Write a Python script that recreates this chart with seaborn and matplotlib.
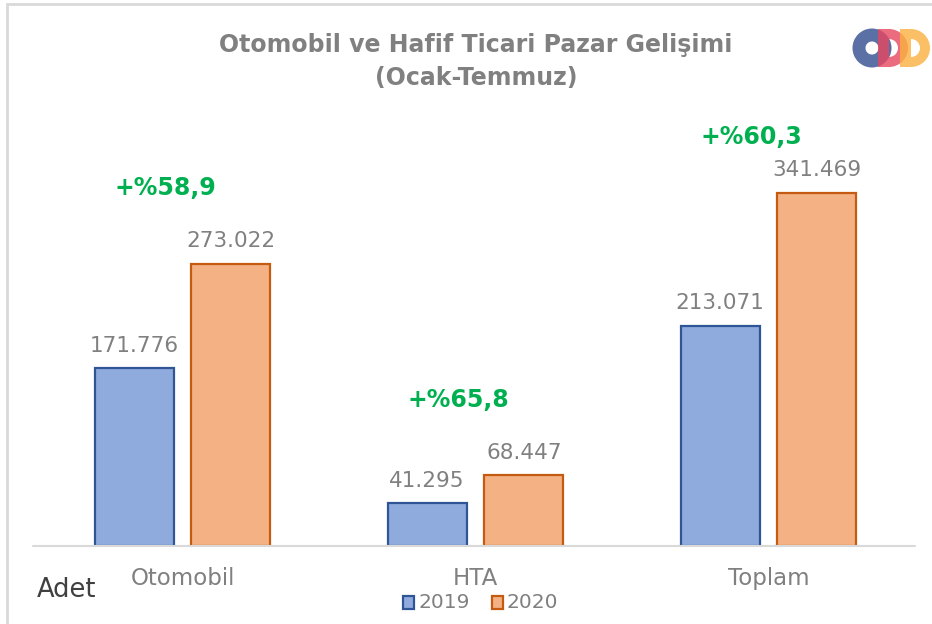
import numpy as np
import pandas as pd
import matplotlib
matplotlib.use("Agg")
import matplotlib.pyplot as plt
from matplotlib.patches import Rectangle, Wedge
import seaborn as sns

categories = ["Otomobil", "HTA", "Toplam"]
years = ["2019", "2020"]
values_2019 = [171776, 41295, 213071]
values_2020 = [273022, 68447, 341469]
growth_offsets_px = [76, 75, 56]

sns.set_theme(style="white")
plt.rcParams["font.family"] = ["DejaVu Sans"]

df = pd.DataFrame({
    "cat": categories * 2,
    "year": [years[0]] * 3 + [years[1]] * 3,
    "val": values_2019 + values_2020,
})

fills = {"2019": "#8FAADC", "2020": "#F4B183"}
edges = {"2019": "#2F5597", "2020": "#C55A11"}
grey = "#808080"

fig = plt.figure(figsize=(9.32, 6.24), dpi=100)
ax = fig.add_axes([36/932, 1 - 546/624, (915-36)/932, (546-100)/624])

sns.barplot(data=df, x="cat", y="val", hue="year", order=categories,
            hue_order=years, palette=fills, width=0.66, gap=0.185,
            ax=ax, legend=False, saturation=1)

for cont, yr in zip(ax.containers, years):
    for bar in cont:
        bar.set_edgecolor(edges[yr])
        bar.set_linewidth(1.6)
    ax.bar_label(cont, labels=[f"{v:,.0f}".replace(",", ".") for v in cont.datavalues],
                 padding=9, color=grey, fontsize=15.5)

ax.set_ylim(0, (546-100)/0.001034)
ax.set_xlim(-0.5, 2.5)
ax.set_yticks([])
ax.set_xlabel("")
ax.set_ylabel("")
for s in ["top", "right", "left", "bottom"]:
    ax.spines[s].set_visible(False)
ax.axhline(0, xmin=-3/879, xmax=1, color="#D9D9D9", linewidth=1.5, clip_on=False)
ax.tick_params(axis="x", length=0, pad=15, labelsize=16.5, labelcolor=grey)

for i, (a, b) in enumerate(zip(values_2019, values_2020)):
    pct = (b / a - 1) * 100
    txt = "+%" + f"{pct:.1f}".replace(".", ",")
    ax.annotate(txt, xy=(i - 0.06, b), xytext=(0, growth_offsets_px[i] * 0.72),
                textcoords="offset points", ha="center", va="center",
                color="#00B050", fontsize=17, fontweight="bold")

fig.text(476/932, 1 - 45/624, "Otomobil ve Hafif Ticari Pazar Gelişimi",
         ha="center", va="center", fontsize=17, fontweight="bold", color=grey)
fig.text(476/932, 1 - 78/624, "(Ocak-Temmuz)",
         ha="center", va="center", fontsize=17, fontweight="bold", color=grey)

fig.text(37/932, 1 - 590/624, "Adet", ha="left", va="center",
         fontsize=18.5, color="#404040")

# legend
for yr, x0 in zip(years, [403, 492]):
    fig.patches.append(Rectangle((x0/932, 1 - 609/624), 11/932, 13/624,
                                 transform=fig.transFigure, facecolor=fills[yr],
                                 edgecolor=edges[yr], linewidth=1.6))
    fig.text((x0 + 15)/932, 1 - 602/624, yr, ha="left", va="center",
             fontsize=14.5, color=grey)

# frame
fig.patches.append(Rectangle((7/932, -0.1), 1.2, 1 - 4/624 + 0.1,
                             transform=fig.transFigure, facecolor="none",
                             edgecolor="#D9D9D9", linewidth=2))

# logo (pixel units, origin at (845, 25))
logo_ax = fig.add_axes([845/932, 1 - 75/624, 87/932, 50/624])
logo_ax.set_xlim(0, 87)
logo_ax.set_ylim(50, 0)
logo_ax.axis("off")
cy = 23
logo_ax.add_patch(Wedge((27, cy), 19.5, 0, 360, width=13, facecolor="#3E5896",
                        alpha=0.85, edgecolor="none"))
for left, col in [(33, "#E8475F"), (55, "#FBB040")]:
    logo_ax.add_patch(Rectangle((left, cy - 19), 11, 38, facecolor=col,
                                alpha=0.8, edgecolor="none"))
    logo_ax.add_patch(Wedge((left + 11, cy), 19, -90, 90, width=10, facecolor=col,
                            alpha=0.8, edgecolor="none"))

fig.savefig("out.png", dpi=100)
